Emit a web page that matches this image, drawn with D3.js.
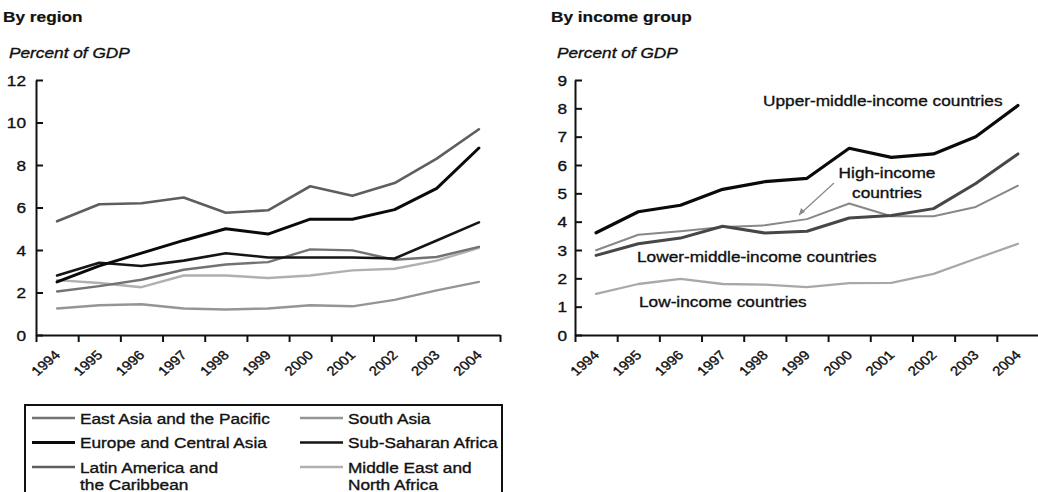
<!DOCTYPE html>
<html>
<head>
<meta charset="utf-8">
<script src="https://cdn.jsdelivr.net/npm/d3@7"></script>
<style>
  html, body { margin: 0; padding: 0; background: #fff; }
  svg { display: block; }
  text { font-family: "Liberation Sans", Arial, sans-serif; fill: #111; stroke: #111; stroke-width: 0.35px; }
</style>
</head>
<body>
<svg id="chart" width="1038" height="492"></svg>
<script>
// ---------- data ----------
const years = ["1994","1995","1996","1997","1998","1999","2000","2001","2002","2003","2004"];

// By region (percent of GDP)
const eastAsiaPacific       = [2.05, 2.3, 2.6, 3.07, 3.32, 3.43, 4.03, 3.98, 3.54, 3.67, 4.15];
const europeCentralAsia     = [2.5, 3.25, 3.85, 4.45, 5.0, 4.75, 5.45, 5.45, 5.9, 6.9, 8.8];
const latinAmericaCaribbean = [5.35, 6.15, 6.2, 6.47, 5.75, 5.87, 7.0, 6.55, 7.15, 8.3, 9.68];
const southAsia             = [1.25, 1.4, 1.45, 1.25, 1.2, 1.25, 1.4, 1.35, 1.65, 2.1, 2.5];
const subSaharanAfrica      = [2.8, 3.4, 3.25, 3.5, 3.85, 3.65, 3.65, 3.65, 3.6, 4.45, 5.3];
const middleEastNorthAfrica = [2.58, 2.45, 2.25, 2.8, 2.8, 2.68, 2.8, 3.04, 3.12, 3.5, 4.1];

// By income group (percent of GDP)
const upperMiddleIncome = [3.61, 4.35, 4.58, 5.14, 5.41, 5.53, 6.59, 6.27, 6.39, 7.0, 8.1];
const lowerMiddleIncome = [2.81, 3.22, 3.42, 3.84, 3.6, 3.66, 4.13, 4.22, 4.46, 5.35, 6.39];
const highIncome        = [2.99, 3.54, 3.66, 3.81, 3.87, 4.09, 4.64, 4.19, 4.19, 4.52, 5.27];
const lowIncome         = [1.45, 1.8, 1.98, 1.8, 1.78, 1.69, 1.83, 1.84, 2.16, 2.69, 3.22];

const regionTicks = [0, 2, 4, 6, 8, 10, 12];
const incomeTicks = [0, 1, 2, 3, 4, 5, 6, 7, 8, 9];

// ---------- drawing ----------
const svg = d3.select("#chart");
const SX = 1.15;   // horizontal stretch of the scanned lettering

function label(g, x, y, str, opts = {}) {
  const t = g.append("text")
    .attr("transform", `translate(${x},${y}) scale(${SX},1)` + (opts.rotate ? ` rotate(${opts.rotate})` : ""))
    .attr("font-size", opts.size || 15)
    .attr("text-anchor", opts.anchor || "start")
    .text(str);
  if (opts.bold) t.attr("font-weight", "bold").style("stroke-width", "0.2px");
  if (opts.italic) t.attr("font-style", "italic");
  return t;
}

function panel(cfg) {
  const g = svg.append("g");
  const x = d3.scaleBand().domain(years).range([cfg.x0, cfg.x1]);
  const xb = d3.scaleLinear().domain([0, years.length]).range([cfg.x0, cfg.x1]);
  const y = d3.scaleLinear().domain([0, cfg.ymax]).range([335, 80]);

  label(g, cfg.titleX, 22, cfg.title, { bold: true, size: 15 });
  label(g, cfg.titleX + 6, 58, "Percent of GDP", { italic: true, size: 15 });

  // y axis (ticks pointing inward)
  const ya = g.append("g").attr("transform", `translate(${cfg.x0},0)`)
    .call(d3.axisLeft(y).tickValues(cfg.ticks).tickSizeInner(-7).tickSizeOuter(0).tickFormat(""));
  ya.selectAll("path,line").attr("stroke", "#111").attr("stroke-width", 2);
  cfg.ticks.forEach(v => label(g, cfg.x0 - cfg.labelGap, y(v) + 5.5, String(v), { anchor: "end", size: 15 }));

  // x axis (ticks at band boundaries, pointing down)
  const xa = g.append("g").attr("transform", "translate(0,335)")
    .call(d3.axisBottom(xb).tickValues(d3.range(0, years.length + 1)).tickSizeInner(7).tickSizeOuter(0).tickFormat(""));
  xa.selectAll("path,line").attr("stroke", "#111").attr("stroke-width", 2);
  years.forEach(yr => {
    const cx = x(yr) + x.bandwidth() / 2;
    label(g, cx + 4, 356, yr, { anchor: "end", size: 13, rotate: -45 });
  });

  const line = d3.line().x((d, i) => x(years[i]) + x.bandwidth() / 2).y(d => y(d));
  cfg.series.forEach(s => {
    g.append("path").datum(s.values)
      .attr("d", line)
      .attr("fill", "none")
      .attr("stroke", s.color)
      .attr("stroke-width", s.width)
      .attr("stroke-linejoin", "round")
      .attr("stroke-linecap", "round");
  });
  return { g, x, y };
}

const regionSeries = [
  { name: "Middle East and North Africa", values: middleEastNorthAfrica, color: "#b0b0b0", width: 2.4 },
  { name: "South Asia", values: southAsia, color: "#959595", width: 2.4 },
  { name: "East Asia and the Pacific", values: eastAsiaPacific, color: "#737373", width: 2.4 },
  { name: "Latin America and the Caribbean", values: latinAmericaCaribbean, color: "#5e5e5e", width: 2.6 },
  { name: "Sub-Saharan Africa", values: subSaharanAfrica, color: "#151515", width: 2.6 },
  { name: "Europe and Central Asia", values: europeCentralAsia, color: "#0a0a0a", width: 3 }
];

panel({
  title: "By region", titleX: 3, x0: 36, x1: 500, ymax: 12, ticks: regionTicks, labelGap: 10,
  series: regionSeries
});

const right = panel({
  title: "By income group", titleX: 551, x0: 575, x1: 1039, ymax: 9, ticks: incomeTicks, labelGap: 8,
  series: [
    { values: lowIncome, color: "#a8a8a8", width: 2.3 },
    { values: highIncome, color: "#888", width: 2 },
    { values: lowerMiddleIncome, color: "#474747", width: 3 },
    { values: upperMiddleIncome, color: "#0a0a0a", width: 3.2 }
  ]
});

// annotations (right panel)
const rg = right.g;
label(rg, 763, 106, "Upper-middle-income countries", { size: 15 });
label(rg, 887, 178, "High-income", { size: 15, anchor: "middle" });
label(rg, 887, 198, "countries", { size: 15, anchor: "middle" });
label(rg, 637, 262, "Lower-middle-income countries", { size: 15 });
label(rg, 639, 307, "Low-income countries", { size: 15 });
rg.append("line").attr("x1", 834).attr("y1", 183).attr("x2", 799).attr("y2", 215)
  .attr("stroke", "#888").attr("stroke-width", 1.2);
rg.append("path").attr("d", "M799,215 L801,208 L805,212 Z").attr("fill", "#888");

// legend (left panel)
const lg = svg.append("g");
lg.append("rect").attr("x", 25).attr("y", 405).attr("width", 477).attr("height", 100)
  .attr("fill", "none").attr("stroke", "#111").attr("stroke-width", 2);
const legendItems = [
  { lines: ["East Asia and the Pacific"], s: regionSeries[2], col: 0, row: 0 },
  { lines: ["Europe and Central Asia"], s: regionSeries[5], col: 0, row: 1 },
  { lines: ["Latin America and", "the Caribbean"], s: regionSeries[3], col: 0, row: 2 },
  { lines: ["South Asia"], s: regionSeries[1], col: 1, row: 0 },
  { lines: ["Sub-Saharan Africa"], s: regionSeries[4], col: 1, row: 1 },
  { lines: ["Middle East and", "North Africa"], s: regionSeries[0], col: 1, row: 2 }
];
legendItems.forEach(it => {
  const lx = it.col === 0 ? 32 : 300;
  const cy = 418 + it.row * 24.5;
  lg.append("line").attr("x1", lx).attr("x2", lx + 43).attr("y1", cy).attr("y2", cy)
    .attr("stroke", it.s.color).attr("stroke-width", it.s.width);
  it.lines.forEach((t, k) => label(lg, lx + 48, cy + 5.5 + k * 17, t, { size: 15 }));
});
</script>
</body>
</html>
